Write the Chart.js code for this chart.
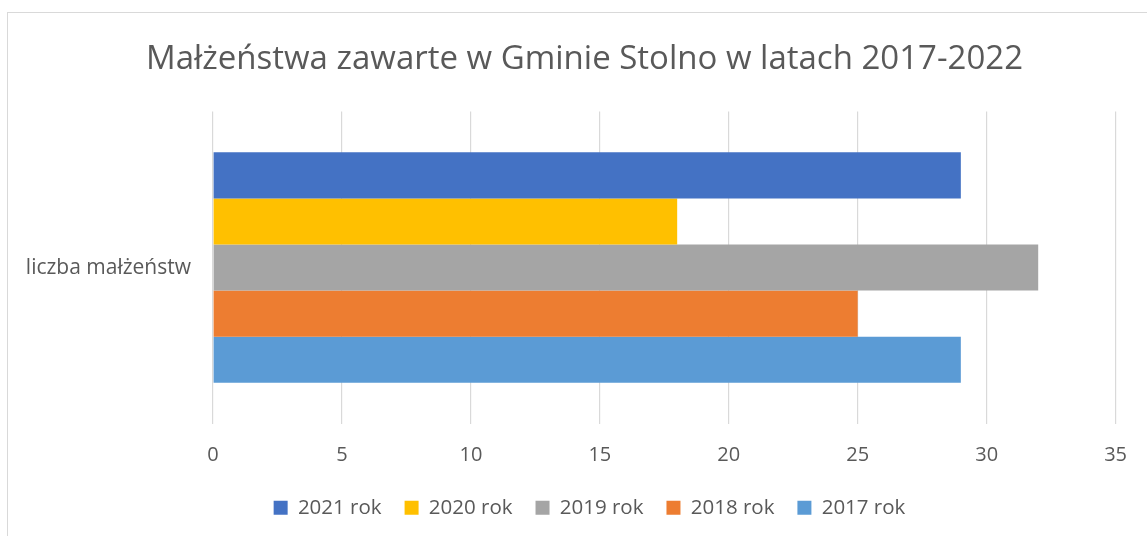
<!DOCTYPE html>
<html>
<head>
<meta charset="utf-8">
<script src="https://cdn.jsdelivr.net/npm/chart.js@4"></script>
<style>
  html, body { margin: 0; padding: 0; background: #fff; }
  #wrap { position: relative; width: 1147px; height: 536px; overflow: hidden; }
  #frame { position: absolute; left: 7px; top: 12px; width: 1200px; height: 600px; border: 1px solid #D9D9D9; pointer-events: none; }
  canvas { position: absolute; left: 0; top: 0; }
</style>
</head>
<body>
<div id="wrap">
  <div id="frame"></div>
  <canvas id="c" width="1147" height="536"></canvas>
</div>
<script>
const titleText = 'Małżeństwa zawarte w Gminie Stolno w latach 2017-2022';
const categories = ['liczba małżeństw'];
const seriesNames = ['2021 rok', '2020 rok', '2019 rok', '2018 rok', '2017 rok'];
const values2021 = [29];
const values2020 = [18];
const values2019 = [32];
const values2018 = [25];
const values2017 = [29];
const seriesColors = ['#4472C4', '#FFC000', '#A5A5A5', '#ED7D31', '#5B9BD5'];
const xMin = 0, xMax = 35, xStep = 5;

const seriesValues = [values2021, values2020, values2019, values2018, values2017];
const textColor = '#595959';
const fontFamily = '"Open Sans", "Noto Sans", sans-serif';

// shift title and legend horizontally so they are centred like the original
const centerShift = {
  id: 'centerShift',
  afterLayout(chart) {
    const shift = (box, target) => {
      if (!box) return;
      const dx = target - (box.left + box.right) / 2;
      box.left += dx; box.right += dx;
    };
    shift(chart.titleBlock, 584.5);
    shift(chart.legend, 589.5);
    if (chart.legend && chart.legend.adjustHitBoxes) chart.legend.adjustHitBoxes();
  }
};

new Chart(document.getElementById('c'), {
  type: 'bar',
  data: {
    labels: categories,
    datasets: seriesNames.map((n, i) => ({
      label: n,
      data: seriesValues[i],
      backgroundColor: seriesColors[i],
      borderWidth: 0,
      categoryPercentage: 0.739,
      barPercentage: 1.0
    }))
  },
  plugins: [centerShift],
  options: {
    indexAxis: 'y',
    responsive: false,
    animation: false,
    layout: { padding: { left: 8, right: 28, top: 0, bottom: 8 } },
    plugins: {
      title: {
        display: true,
        text: titleText,
        color: textColor,
        font: { family: fontFamily, size: 33, weight: 'normal' },
        padding: { top: 40, bottom: 32 }
      },
      legend: {
        position: 'bottom',
        labels: {
          color: textColor,
          font: { family: fontFamily, size: 20.5 },
          boxWidth: 14,
          boxHeight: 14,
          padding: 23
        }
      },
      tooltip: { enabled: false }
    },
    scales: {
      x: {
        min: xMin, max: xMax,
        ticks: { stepSize: xStep, color: textColor, font: { family: fontFamily, size: 20 }, padding: 20 },
        grid: { color: '#D9D9D9', lineWidth: 1.2, drawTicks: false },
        border: { display: false },
        afterFit: s => { s.height = 51; }
      },
      y: {
        ticks: { color: textColor, font: { family: fontFamily, size: 21 }, padding: 22 },
        grid: { display: false, drawTicks: false },
        border: { display: false },
        afterFit: s => { s.width = 205; }
      }
    }
  }
});
</script>
</body>
</html>
